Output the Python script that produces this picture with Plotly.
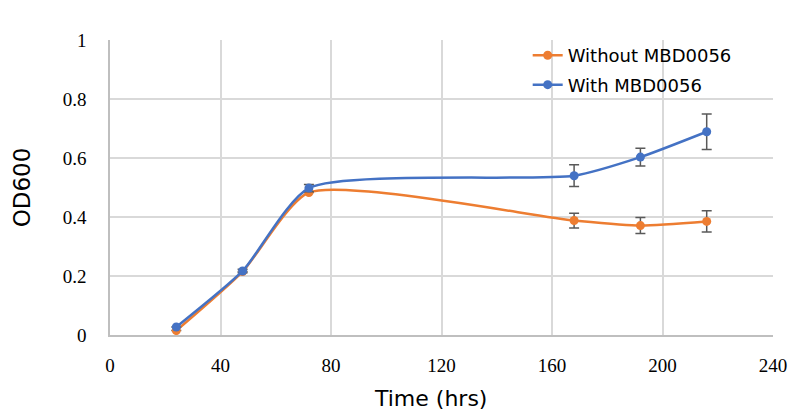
import plotly.graph_objects as go

time_hrs = [24, 48, 72, 168, 192, 216]
without_vals = [0.015, 0.215, 0.483, 0.388, 0.371, 0.385]
without_err = [0.0, 0.0, 0.0, 0.025, 0.027, 0.036]
with_vals = [0.027, 0.217, 0.498, 0.540, 0.603, 0.689]
with_err = [0.0, 0.006, 0.012, 0.037, 0.030, 0.060]

x_ticks = [0, 40, 80, 120, 160, 200, 240]
y_ticks = [0, 0.2, 0.4, 0.6, 0.8, 1]
y_tick_labels = ["0", "0.2", "0.4", "0.6", "0.8", "1"]
x_title = "Time (hrs)"
y_title = "OD600"

orange = "#ED7D31"
blue = "#4472C4"
err_color = "#595959"
serif = "Liberation Serif, Times New Roman, Times, serif"

fig = go.Figure()
fig.add_trace(go.Scatter(
    x=time_hrs, y=without_vals, name="Without MBD0056", legendgroup="a",
    mode="lines+markers", line=dict(color=orange, width=2.5, shape="spline", smoothing=0.6),
    marker=dict(color=orange, size=9),
    error_y=dict(type="data", array=without_err, visible=True, color=err_color, thickness=1.5, width=5),
))
fig.add_trace(go.Scatter(
    x=time_hrs, y=with_vals, name="With MBD0056", legendgroup="b",
    mode="lines+markers", line=dict(color=blue, width=2.5, shape="spline", smoothing=0.6),
    marker=dict(color=blue, size=9),
    error_y=dict(type="data", array=with_err, visible=True, color=err_color, thickness=1.5, width=5),
))

fig.add_annotation(
    text=x_title, xref="paper", yref="paper", x=0.4827, y=-0.215,
    xanchor="center", yanchor="middle", showarrow=False,
    font=dict(family="DejaVu Sans", size=22, color="#000000"),
)

fig.update_layout(
    width=796, height=411,
    margin=dict(l=110, r=23, t=40, b=76),
    paper_bgcolor="white", plot_bgcolor="white",
    showlegend=True,
    legend=dict(x=0.63, y=1.01, xanchor="left", yanchor="top", bgcolor="rgba(0,0,0,0)",
                font=dict(family="DejaVu Sans", size=18, color="#000000"), tracegroupgap=3),
    xaxis=dict(range=[0, 240], tickvals=x_ticks, showgrid=True, gridcolor="#D9D9D9", gridwidth=1.5,
               showline=True, linecolor="#BFBFBF", linewidth=1.5, zeroline=False, automargin=False,
               tickfont=dict(family=serif, size=19, color="#000000"),
               ticks="outside", ticklen=12, tickcolor="rgba(0,0,0,0)"),
    yaxis=dict(range=[0, 1], tickvals=y_ticks, ticktext=y_tick_labels, showgrid=True, gridcolor="#D9D9D9", gridwidth=1.5,
               showline=True, linecolor="#BFBFBF", linewidth=1.5, zeroline=False, automargin=False,
               tickfont=dict(family=serif, size=19, color="#000000"),
               ticks="outside", ticklen=18, tickcolor="rgba(0,0,0,0)",
               title=dict(text=y_title, font=dict(family="DejaVu Sans", size=23, color="#000000"), standoff=26)),
)

fig.write_html("out.html")
